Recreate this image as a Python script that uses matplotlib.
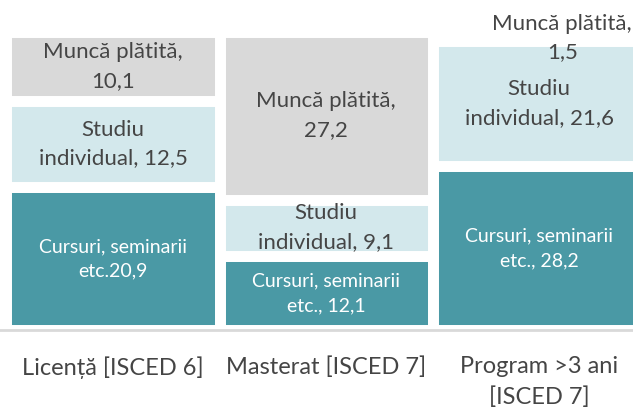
import numpy as np
import matplotlib
matplotlib.use('Agg')
from matplotlib import pyplot as plt

plt.rcParams['font.family'] = ['Lato', 'DejaVu Sans']

categories = ['Licență [ISCED 6]', 'Masterat [ISCED 7]', 'Program >3 ani\n[ISCED 7]']
cursuri = [20.9, 12.1, 28.2]
studiu = [12.5, 9.1, 21.6]
munca = [10.1, 27.2, 1.5]

cursuri_labels = ['Cursuri, seminarii\netc.20,9', 'Cursuri, seminarii\netc., 12,1',
                  'Cursuri, seminarii\netc., 28,2']
studiu_labels = ['Studiu\nindividual, 12,5', 'Studiu\nindividual, 9,1', 'Studiu\nindividual, 21,6']
munca_labels = ['Muncă plătită,\n10,1', 'Muncă plătită,\n27,2', 'Muncă plătită,\n1,5']

colors = ['#4a99a5', '#d3e8ec', '#d9d9d9']
text_colors = ['white', '#454545', '#454545']

fig = plt.figure(figsize=(6.33, 4.08), dpi=100)
ax = fig.add_axes([0, 0.19, 1, 0.7316])

x = np.arange(len(categories))
series = [np.array(cursuri), np.array(studiu), np.array(munca)]
labels = [cursuri_labels, studiu_labels, munca_labels]
total = sum(series)
bottom = np.zeros(len(categories))
for s, lab, col, tcol in zip(series, labels, colors, text_colors):
    pct = s / total * 100
    ax.bar(x, pct, bottom=bottom, width=1.0, color=col, edgecolor='white', linewidth=7.9)
    for i in range(len(x)):
        size = 14 if tcol == 'white' else 16
        if pct[i] < 5:
            # too thin, label sits above the bar
            ax.text(x[i] + 0.108, 98, lab[i], ha='center', va='center', color=tcol,
                    fontsize=size, linespacing=1.55, clip_on=False)
        else:
            ax.text(x[i], bottom[i] + pct[i] / 2, lab[i], ha='center', va='center',
                    color=tcol, fontsize=size, linespacing=1.55)
    bottom = bottom + pct

ax.set_xlim(-0.53, 2.44)
ax.set_ylim(0, 100)
ax.set_yticks([])
ax.set_xticks(x)
ax.set_xticklabels(categories, fontsize=17, color='#454545', linespacing=1.55, va='top')
ax.tick_params(axis='x', length=0, pad=18.5)
for sp in ['top', 'left', 'right']:
    ax.spines[sp].set_visible(False)
ax.spines['bottom'].set_color('#d9d9d9')
ax.spines['bottom'].set_linewidth(2)

fig.savefig('out.png', dpi=100)
